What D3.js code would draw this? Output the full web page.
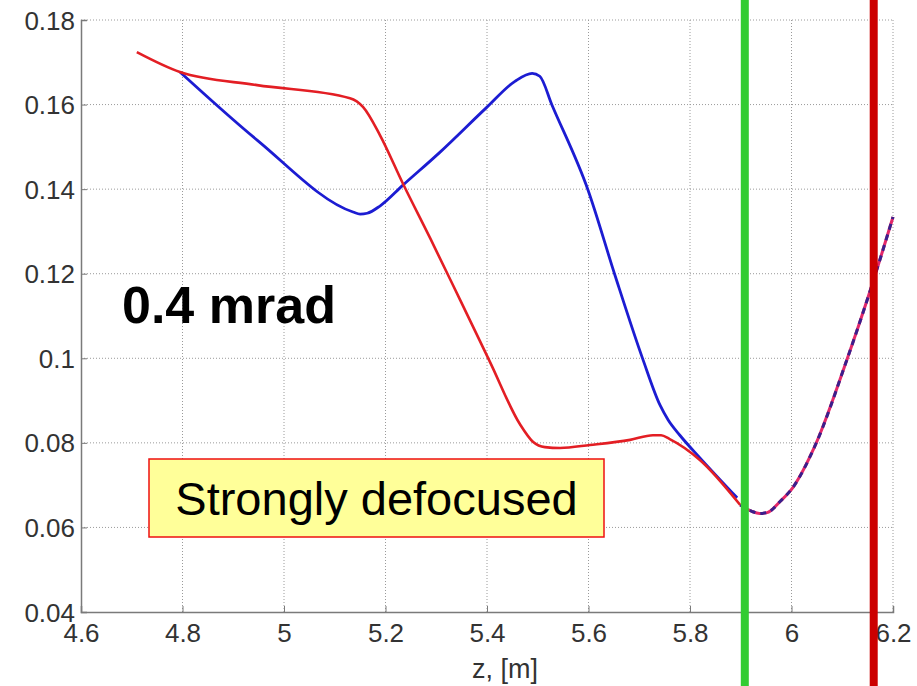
<!DOCTYPE html>
<html>
<head>
<meta charset="utf-8">
<script src="https://cdn.jsdelivr.net/npm/d3@7"></script>
<style>
  html, body { margin: 0; padding: 0; background: #fff; }
  svg { display: block; font-family: "Liberation Sans", Arial, sans-serif; }
</style>
</head>
<body>
<svg id="chart" width="917" height="686"></svg>
<script>
// Beam size along z for the two transverse planes
const redZ = [4.710, 4.795, 4.947, 5.130, 5.156, 5.189, 5.234, 5.288, 5.347, 5.406, 5.465, 5.491, 5.514, 5.544, 5.603, 5.682, 5.727, 5.743, 5.760, 5.820, 5.899];
const redV = [0.1724, 0.1677, 0.1646, 0.1615, 0.1594, 0.1528, 0.1414, 0.1284, 0.1138, 0.0991, 0.0844, 0.0802, 0.0790, 0.0788, 0.0795, 0.0807, 0.0818, 0.0818, 0.0809, 0.0759, 0.0653];

const blueZ = [4.795, 4.947, 5.136, 5.150, 5.164, 5.189, 5.234, 5.307, 5.400, 5.455, 5.489, 5.504, 5.528, 5.599, 5.652, 5.707, 5.741, 5.757, 5.780, 5.820, 5.893];
const blueV = [0.1677, 0.1516, 0.1346, 0.1341, 0.1343, 0.1360, 0.1409, 0.1487, 0.1594, 0.1655, 0.1674, 0.1667, 0.1599, 0.1398, 0.1197, 0.0998, 0.0889, 0.0854, 0.0818, 0.0764, 0.0670];

// Common section past the focus, both planes coincide
const tailZ = [5.899, 5.922, 5.937, 5.952, 5.978, 6.003, 6.046, 6.109, 6.151, 6.200];
const tailV = [0.0653, 0.0638, 0.0633, 0.0635, 0.0662, 0.0695, 0.0792, 0.0996, 0.1145, 0.1334];

const xTicks = [4.6, 4.8, 5.0, 5.2, 5.4, 5.6, 5.8, 6.0, 6.2];
const yTicks = [0.04, 0.06, 0.08, 0.10, 0.12, 0.14, 0.16, 0.18];

// Vertical position markers (z in m)
const markerZ = [5.908, 6.162];
const markerColor = ["#33cc33", "#cc0000"];

const svg = d3.select("#chart");
const margin = { left: 81, right: 24, top: 20, bottom: 74 };
const W = 917, H = 686;

const x = d3.scaleLinear().domain([4.6, 6.2]).range([margin.left, W - margin.right]);
const y = d3.scaleLinear().domain([0.04, 0.18]).range([H - margin.bottom, margin.top]);

const fmt = d => (Math.round(d * 100) / 100).toString();

// Grid
const grid = svg.append("g");
grid.selectAll("line.gx").data(xTicks.slice(1)).join("line")
  .attr("x1", d => x(d)).attr("x2", d => x(d))
  .attr("y1", y(0.04)).attr("y2", y(0.18))
  .attr("stroke", "#9a9a9a").attr("stroke-width", 1).attr("stroke-dasharray", "1,2");
grid.selectAll("line.gy").data(yTicks.slice(1)).join("line")
  .attr("x1", x(4.6)).attr("x2", x(6.2))
  .attr("y1", d => y(d)).attr("y2", d => y(d))
  .attr("stroke", "#9a9a9a").attr("stroke-width", 1).attr("stroke-dasharray", "1,2");

// Axes
const xAxis = svg.append("g").attr("transform", `translate(0,${y(0.04)})`)
  .call(d3.axisBottom(x).tickValues(xTicks).tickFormat(fmt).tickSize(-6).tickPadding(12));
const yAxis = svg.append("g").attr("transform", `translate(${x(4.6)},0)`)
  .call(d3.axisLeft(y).tickValues(yTicks).tickFormat(fmt).tickSize(-6).tickPadding(6));
[xAxis, yAxis].forEach(g => {
  g.select(".domain").attr("stroke", "#7a7a7a").attr("stroke-width", 1.5);
  g.selectAll(".tick line").attr("stroke", "#7a7a7a");
  g.selectAll(".tick text").attr("fill", "#333").attr("font-size", 26)
    .attr("font-family", "Liberation Sans, Arial, sans-serif");
});
yAxis.selectAll(".tick text").attr("dy", "0.35em");

svg.append("text")
  .attr("x", x(5.4) + 18).attr("y", 678)
  .attr("text-anchor", "middle").attr("font-size", 27).attr("fill", "#333")
  .text("z, [m]");

// Curves
const line = d3.line().x(d => x(d[0])).y(d => y(d[1])).curve(d3.curveMonotoneX);
const redPts = redZ.map((z, i) => [z, redV[i]]);
const bluePts = blueZ.map((z, i) => [z, blueV[i]]);
const tailPts = tailZ.map((z, i) => [z, tailV[i]]);

svg.append("path").attr("d", line(bluePts))
  .attr("fill", "none").attr("stroke", "#1c1cd2").attr("stroke-width", 2.8)
  .attr("stroke-linejoin", "round");
svg.append("path").attr("d", line(redPts))
  .attr("fill", "none").attr("stroke", "#e31e24").attr("stroke-width", 2.6)
  .attr("stroke-linejoin", "round");
svg.append("path").attr("d", line(tailPts))
  .attr("fill", "none").attr("stroke", "#e3286a").attr("stroke-width", 3);
svg.append("path").attr("d", line(tailPts))
  .attr("fill", "none").attr("stroke", "#3a1f8c").attr("stroke-width", 3)
  .attr("stroke-dasharray", "6,5");

// Position markers
svg.selectAll("line.marker").data(markerZ).join("line")
  .attr("x1", d => x(d)).attr("x2", d => x(d))
  .attr("y1", 0).attr("y2", H)
  .attr("stroke", (d, i) => markerColor[i]).attr("stroke-width", 8);

// Annotations
svg.append("text")
  .attr("x", 122).attr("y", 323)
  .attr("font-size", 52).attr("font-weight", "bold").attr("fill", "#000")
  .text("0.4 mrad");

svg.append("rect")
  .attr("x", 149).attr("y", 459).attr("width", 455).attr("height", 78)
  .attr("fill", "#ffff99").attr("stroke", "#ee1111").attr("stroke-width", 1.5);
svg.append("text")
  .attr("x", 376.5).attr("y", 515)
  .attr("text-anchor", "middle").attr("font-size", 47).attr("fill", "#000")
  .text("Strongly defocused");
</script>
</body>
</html>
